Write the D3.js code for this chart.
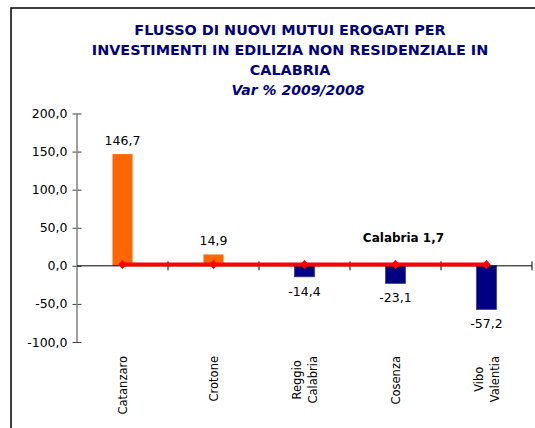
<!DOCTYPE html>
<html>
<head>
<meta charset="utf-8">
<script src="https://cdn.jsdelivr.net/npm/d3@7"></script>
<style>
  html, body { margin: 0; padding: 0; background: #fff; }
  svg { display: block; font-family: "DejaVu Sans", Tahoma, sans-serif; }
</style>
</head>
<body>
<div id="chart"></div>
<script>
// DATA
const provinces = ['Catanzaro', 'Crotone', 'Reggio Calabria', 'Cosenza', 'Vibo Valentia'];
const varPct = [146.7, 14.9, -14.4, -23.1, -57.2];
const regionName = 'Calabria';
const regionValue = 1.7;
const yTicks = [-100, -50, 0, 50, 100, 150, 200];
const titleLines = ['FLUSSO DI NUOVI MUTUI EROGATI PER', 'INVESTIMENTI IN EDILIZIA NON RESIDENZIALE IN', 'CALABRIA'];
const subTitle = 'Var % 2009/2008';

// VIZ DIMENSIONS + MOUNTING
const width = 535;
const height = 428;
const plotLeft = 77;
const plotRight = 532;
const plotTop = 113.5;
const plotBottom = 342;

const svg = d3.select('#chart').append('svg')
  .attr('width', width)
  .attr('height', height);

// chart frame (right and bottom sides fall outside the window)
svg.append('rect')
  .attr('x', 11)
  .attr('y', 8)
  .attr('width', 600)
  .attr('height', 500)
  .style('fill', 'white')
  .style('stroke', 'black')
  .style('stroke-width', 1.5);

// italian number format, plain hyphen for negatives
const itLocale = d3.formatLocale({decimal: ',', thousands: '.', grouping: [3], currency: ['', ' €'], minus: '-'});
const fmt = itLocale.format('.1f');

// title
svg.selectAll('text.title')
  .data(titleLines)
  .enter()
  .append('text')
  .attr('class', 'title')
  .attr('x', 290)
  .attr('y', (d, i) => 35 + i * 20)
  .attr('text-anchor', 'middle')
  .style('font-size', '14.4px')
  .style('font-weight', 'bold')
  .style('fill', '#000080')
  .text(d => d);

svg.append('text')
  .attr('x', 298)
  .attr('y', 95)
  .attr('text-anchor', 'middle')
  .style('font-size', '14px')
  .style('font-weight', 'bold')
  .style('font-style', 'italic')
  .style('fill', '#000080')
  .text(subTitle);

// SCALES
const x = d3.scaleBand()
  .domain(provinces)
  .range([plotLeft, plotRight])
  .paddingInner(0)
  .paddingOuter(0);

const y = d3.scaleLinear()
  .domain([-100, 200])
  .range([plotBottom, plotTop]);

const barW = x.bandwidth() * 0.22;

// Y AXIS
const yAxis = svg.append('g')
  .attr('transform', `translate(${plotLeft},0)`)
  .call(d3.axisLeft(y).tickValues(yTicks).tickFormat(fmt).tickSize(4.5).tickPadding(5));

yAxis.select('.domain').remove();
yAxis.append('line')
  .attr('x1', 0).attr('x2', 0)
  .attr('y1', y(200)).attr('y2', y(-100))
  .style('stroke', '#808080')
  .style('stroke-width', 1.5);
yAxis.selectAll('.tick line')
  .attr('x1', 4.5)
  .style('stroke', '#404040');
yAxis.selectAll('.tick text')
  .style('font-size', '12.5px')
  .style('font-family', '"DejaVu Sans", Tahoma, sans-serif')
  .style('fill', 'black');

// BARS
svg.selectAll('rect.bar')
  .data(provinces)
  .enter()
  .append('rect')
  .attr('class', 'bar')
  .attr('x', d => x(d) + (x.bandwidth() - barW) / 2)
  .attr('width', barW)
  .attr('y', (d, i) => y(Math.max(0, varPct[i])))
  .attr('height', (d, i) => Math.abs(y(varPct[i]) - y(0)))
  .style('fill', (d, i) => varPct[i] >= 0 ? '#FF6600' : '#000080')
  .style('stroke', (d, i) => varPct[i] >= 0 ? 'none' : '#3a3aa0')
  .style('stroke-width', 0.8);

// X AXIS (at zero)
const xAxis = svg.append('g')
  .attr('transform', `translate(0,${y(0)})`);
xAxis.append('line')
  .attr('x1', plotLeft).attr('x2', plotRight)
  .attr('y1', 0).attr('y2', 0)
  .style('stroke', 'black')
  .style('stroke-width', 1);
xAxis.selectAll('line.xtick')
  .data(provinces)
  .enter()
  .append('line')
  .attr('class', 'xtick')
  .attr('x1', d => x(d) + x.bandwidth())
  .attr('x2', d => x(d) + x.bandwidth())
  .attr('y1', -4.5)
  .attr('y2', 4.5)
  .style('stroke', 'black')
  .style('stroke-width', 1);

// value labels
svg.selectAll('text.val')
  .data(provinces)
  .enter()
  .append('text')
  .attr('class', 'val')
  .attr('x', d => x(d) + x.bandwidth() / 2)
  .attr('y', (d, i) => varPct[i] >= 0 ? y(varPct[i]) - 9 : y(varPct[i]) + 19)
  .attr('text-anchor', 'middle')
  .style('font-size', '12.5px')
  .text((d, i) => fmt(varPct[i]));

// category labels (rotated, multi-line)
const catG = svg.selectAll('g.cat')
  .data(provinces)
  .enter()
  .append('g')
  .attr('class', 'cat')
  .attr('transform', d => `translate(${x(d) + x.bandwidth() / 2},356) rotate(-90)`);

catG.each(function(d) {
  const g = d3.select(this);
  const words = d.split(' ');
  const texts = words.map((w, i) => g.append('text')
    .attr('y', (i - (words.length - 1) / 2) * 16 + 4.5)
    .style('font-size', '11.5px')
    .text(w));
  const maxLen = d3.max(texts, t => t.node().getComputedTextLength());
  texts.forEach(t => t.attr('x', -maxLen / 2).attr('text-anchor', 'middle'));
});

// REGIONAL LINE
const regionLine = d3.line()
  .x(d => x(d) + x.bandwidth() / 2)
  .y(() => y(regionValue));

svg.append('path')
  .datum(provinces)
  .attr('d', regionLine)
  .style('fill', 'none')
  .style('stroke', '#FF0000')
  .style('stroke-width', 4);

svg.selectAll('path.marker')
  .data(provinces)
  .enter()
  .append('path')
  .attr('class', 'marker')
  .attr('d', d3.symbol().type(d3.symbolDiamond).size(40))
  .attr('transform', d => `translate(${x(d) + x.bandwidth() / 2},${y(regionValue)}) scale(1.2,0.8)`)
  .style('fill', '#FF0000');

svg.append('text')
  .attr('x', x('Cosenza') + x.bandwidth() / 2 + 8)
  .attr('y', y(regionValue) - 23)
  .attr('text-anchor', 'middle')
  .style('font-size', '12px')
  .style('font-weight', 'bold')
  .text(`${regionName} ${fmt(regionValue)}`);
</script>
</body>
</html>
